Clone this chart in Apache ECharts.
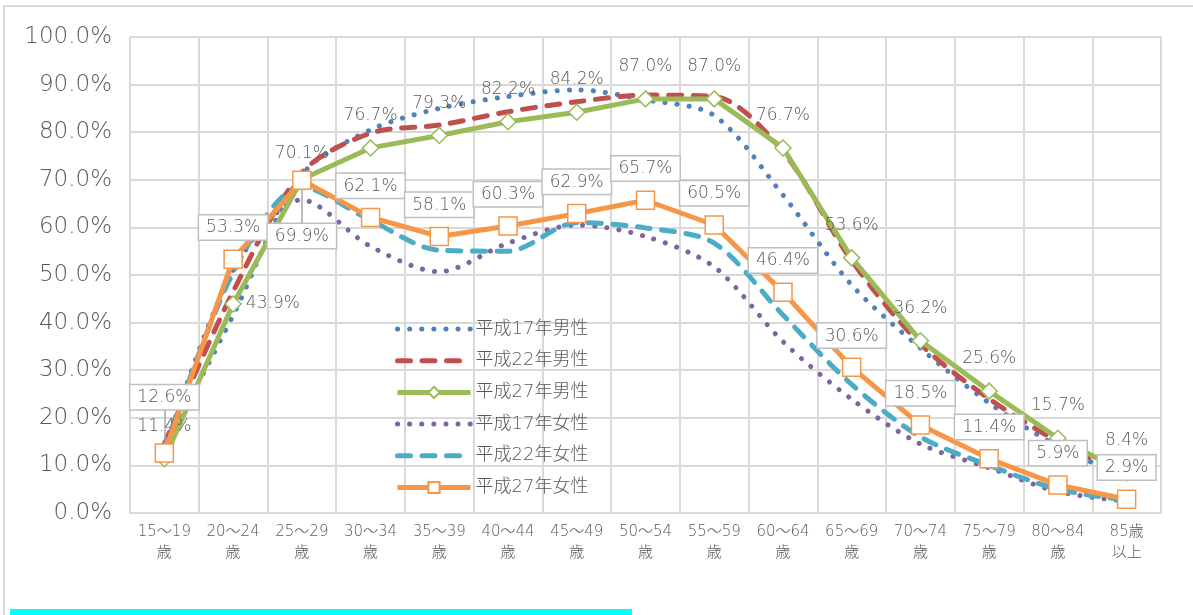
<!DOCTYPE html>
<html><head><meta charset="utf-8">
<script src="https://cdn.jsdelivr.net/npm/echarts@6/dist/echarts.min.js"></script>
<style>html,body{margin:0;padding:0;background:#fff}#c{width:1193px;height:615px}</style>
</head><body><div id="c"></div>
<script>
const categories = ['15～19\n歳','20～24\n歳','25～29\n歳','30～34\n歳','35～39\n歳','40～44\n歳','45～49\n歳','50～54\n歳','55～59\n歳','60～64\n歳','65～69\n歳','70～74\n歳','75～79\n歳','80～84\n歳','85歳\n以上'];
const h17Male   = [13.5, 41.5, 71.0, 80.5, 85.0, 87.5, 88.9, 86.8, 83.5, 66.8, 47.9, 34.6, 23.1, 14.0, 7.5];
const h22Male   = [14.5, 46.5, 71.5, 79.8, 81.5, 84.3, 86.4, 87.8, 87.5, 75.9, 53.0, 35.5, 24.0, 15.0, 8.0];
const h27Male   = [11.4, 43.9, 70.1, 76.7, 79.3, 82.2, 84.2, 87.0, 87.0, 76.7, 53.6, 36.2, 25.6, 15.7, 8.4];
const h17Female = [13.0, 51.0, 65.8, 56.0, 50.7, 56.7, 60.5, 58.1, 51.7, 36.0, 23.9, 14.5, 9.5, 4.5, 2.5];
const h22Female = [13.0, 50.5, 68.5, 61.5, 55.2, 55.0, 61.0, 59.9, 56.7, 41.6, 27.0, 16.0, 10.0, 5.0, 2.7];
const h27Female = [12.6, 53.3, 69.9, 62.1, 58.1, 60.3, 62.9, 65.7, 60.5, 46.4, 30.6, 18.5, 11.4, 5.9, 2.9];
const yTicks = [0,10,20,30,40,50,60,70,80,90,100];
const names = ['平成17年男性','平成22年男性','平成27年男性','平成17年女性','平成22年女性','平成27年女性'];

const FONT = '"DejaVu Sans", "Noto Sans CJK JP", sans-serif';
const TXT = '#595959';
const fmt = p => p.value.toFixed(1) + '%';
const DOT = [0.1, 12];
const DASH = [13, 11.5];

const maleData = h27Male.map((v, i) => {
  if (i === 1) return {value: v, label: {position: 'right', distance: 4}};
  if (i === 2) return {value: v, label: {distance: 8}};
  return v;
});
const femaleData = h27Female.map((v, i) => {
  if (i === 0) return {value: v, label: {distance: 34}};
  if (i === 2) return {value: v, label: {position: 'bottom', distance: 34}};
  return v;
});
// leader lines (label guide) for the two moved labels
const guides = [
  [{coord: [0, h27Female[0]]}, {coord: [0, h27Female[0] + 9]}],
  [{coord: [2, h27Female[2]]}, {coord: [2, h27Female[2] - 9]}]
];

const chart = echarts.init(document.getElementById('c'));
chart.setOption({
  animation: false,
  textStyle: {fontFamily: FONT, fontWeight: 200},
  graphic: [
    {type: 'line', shape: {x1: 4, y1: 6, x2: 1193, y2: 6}, style: {stroke: '#d9d9d9', lineWidth: 2}},
    {type: 'line', shape: {x1: 4, y1: 6, x2: 4, y2: 615}, style: {stroke: '#d9d9d9', lineWidth: 2}},
    {type: 'rect', shape: {x: 10, y: 609, width: 622, height: 6}, style: {fill: '#00ffff'}}
  ],
  grid: {left: 130, top: 37, width: 1031, height: 476},
  legend: {
    orient: 'vertical', left: 390, top: 315,
    itemWidth: 73, itemHeight: 14, itemGap: 13.7,
    textStyle: {fontSize: 18, color: TXT, fontFamily: FONT, fontWeight: 200},
    data: [
      {name: names[0], itemStyle: {opacity: 0}, lineStyle: {width: 5, type: DOT, cap: 'round'}},
      {name: names[1], itemStyle: {opacity: 0}, lineStyle: {width: 5, type: DASH, cap: 'round'}},
      {name: names[2], lineStyle: {width: 5}},
      {name: names[3], itemStyle: {opacity: 0}, lineStyle: {width: 5, type: DOT, cap: 'round'}},
      {name: names[4], itemStyle: {opacity: 0}, lineStyle: {width: 5, type: DASH, cap: 'round'}},
      {name: names[5], lineStyle: {width: 5}}
    ]
  },
  xAxis: {
    type: 'category', data: categories, boundaryGap: true,
    axisLine: {lineStyle: {color: '#d9d9d9', width: 2}},
    axisTick: {show: false},
    splitLine: {show: true, interval: 0, lineStyle: {color: '#d9d9d9', width: 2}},
    axisLabel: {interval: 0, fontSize: 15, lineHeight: 21, color: TXT, margin: 9, fontFamily: FONT, fontWeight: 200}
  },
  yAxis: {
    type: 'value', min: 0, max: 100, interval: 10,
    axisLine: {show: false}, axisTick: {show: false},
    splitLine: {lineStyle: {color: '#d9d9d9', width: 2}},
    axisLabel: {fontSize: 23, color: TXT, margin: 18, fontFamily: FONT, fontWeight: 200, formatter: v => v.toFixed(1) + '%'}
  },
  series: [
    {name: names[0], type: 'line', data: h17Male, smooth: 0.3, symbol: 'none', z: 2,
     lineStyle: {color: '#4f81bd', width: 5, type: DOT, cap: 'round'}, itemStyle: {color: '#4f81bd'}},
    {name: names[1], type: 'line', data: h22Male, smooth: 0.3, symbol: 'none', z: 3,
     lineStyle: {color: '#c0504d', width: 5, type: DASH, cap: 'round'}, itemStyle: {color: '#c0504d'}},
    {name: names[3], type: 'line', data: h17Female, smooth: 0.3, symbol: 'none', z: 2,
     lineStyle: {color: '#8064a2', width: 5, type: DOT, cap: 'round'}, itemStyle: {color: '#8064a2'}},
    {name: names[4], type: 'line', data: h22Female, smooth: 0.3, symbol: 'none', z: 3,
     lineStyle: {color: '#4bacc6', width: 5, type: DASH, cap: 'round'}, itemStyle: {color: '#4bacc6'}},
    {name: names[2], type: 'line', data: maleData, symbol: 'diamond', symbolSize: 16, z: 5,
     lineStyle: {color: '#9bbb59', width: 5}, itemStyle: {color: '#fff', borderColor: '#9bbb59', borderWidth: 1.5},
     label: {show: true, position: 'top', distance: 15, fontSize: 17, color: TXT, fontFamily: FONT, fontWeight: 200, formatter: fmt}},
    {name: names[5], type: 'line', data: femaleData, symbol: 'rect', symbolSize: 18, z: 6,
     lineStyle: {color: '#f79646', width: 5}, itemStyle: {color: '#fff', borderColor: '#f79646', borderWidth: 1.5},
     markLine: {silent: true, symbol: 'none', label: {show: false}, animation: false,
       lineStyle: {color: '#a6a6a6', width: 1.5, type: 'solid'}, data: guides},
     label: {show: true, position: 'top', distance: 10, fontSize: 17, color: TXT, fontFamily: FONT, fontWeight: 200, formatter: fmt,
       backgroundColor: '#fff', borderColor: '#bfbfbf', borderWidth: 1.5, padding: [4, 7, 3, 7]}}
  ]
});
</script></body></html>
